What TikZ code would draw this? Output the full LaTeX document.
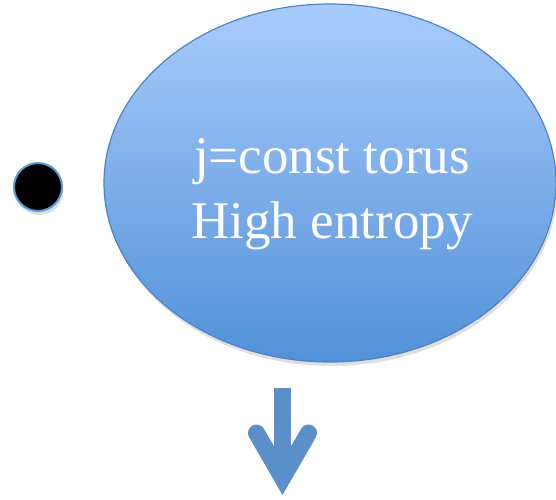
\documentclass[tikz,border=0pt]{standalone}
\usepackage{fontspec}
\setmainfont{Liberation Serif}
\usetikzlibrary{shapes.geometric,shadows}
\definecolor{elltop}{HTML}{A9CBFC}
\definecolor{ellbot}{HTML}{5291D8}
\definecolor{ellborder}{HTML}{4F83C2}
\definecolor{dotborder}{HTML}{5B9BD5}
\definecolor{arrowblue}{HTML}{5B8FCA}
\tikzset{
  softshadow/.style={drop shadow={opacity=0.25, shadow xshift=1.5pt, shadow yshift=-4pt}},
  torusbox/.style={ellipse, inner sep=0pt, minimum width=452pt, minimum height=358pt,
    top color=elltop, bottom color=ellbot, draw=ellborder, line width=1.2pt, softshadow},
  torustext/.style={text=white, align=center, inner sep=0pt, font=\fontsize{53}{65}\selectfont},
  dotbox/.style={circle, fill=black, draw=dotborder, line width=2pt, minimum size=48pt, inner sep=0pt, softshadow},
  arrowline/.style={draw=arrowblue, line width=17pt}
}
\begin{document}
\begin{tikzpicture}[x=1pt,y=-1pt]
\useasboundingbox (0,0) rectangle (556,499);
\node[torusbox] (torus) at (330,183) {};
\node[torustext] (label) at ([xshift=2pt,yshift=-11pt]torus.center) {j=const torus\\High entropy};
\node[dotbox] (dot) at (38,187) {};
\coordinate (ashaft) at (282.5,388);
\coordinate (ajoin) at (282.5,470);
\coordinate (atip) at (282.5,478);
\coordinate (awl) at (256.5,433);
\coordinate (awr) at (308.5,433);
\draw[arrowline, line cap=butt] (ashaft) -- (ajoin);
\draw[arrowline, line cap=round, line join=miter] (awl) -- (atip) -- (awr);
\end{tikzpicture}
\end{document}
